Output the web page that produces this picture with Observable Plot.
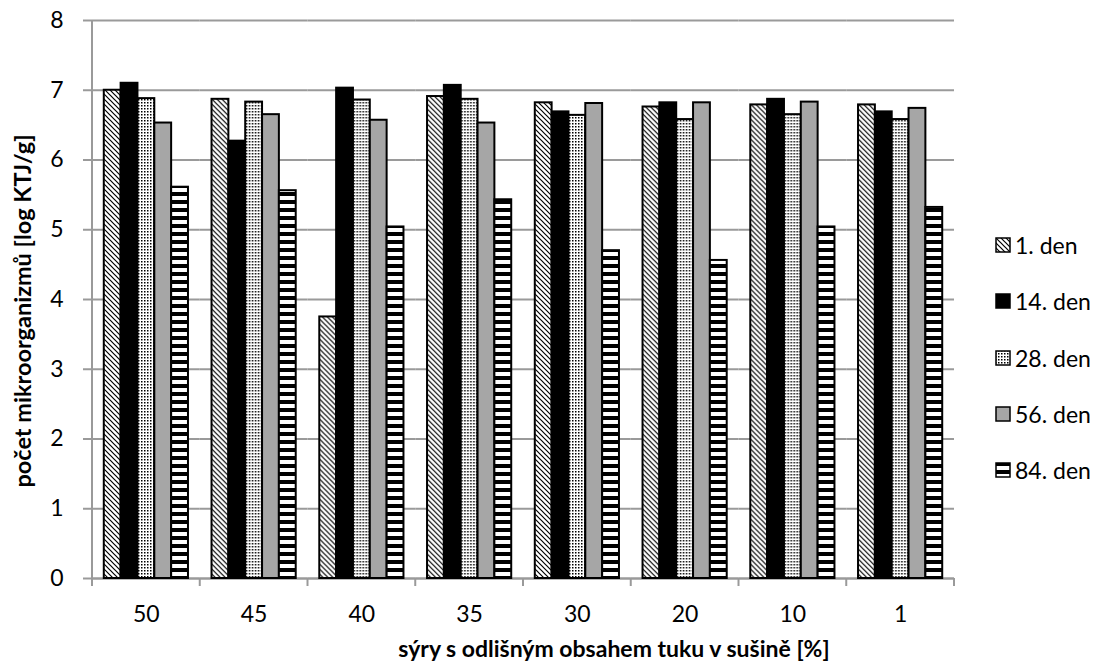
<!DOCTYPE html>
<html>
<head>
<meta charset="utf-8">
<script src="https://cdn.jsdelivr.net/npm/d3@7"></script>
<script src="https://cdn.jsdelivr.net/npm/@observablehq/plot@0.6"></script>
<style>
  body { margin: 0; background: #fff; font-family: Lato, "Open Sans", sans-serif; }
  #wrap { position: relative; width: 1108px; height: 668px; }
  #ytitle { position: absolute; left: 22px; top: 311px; transform: translate(-50%, -50%) rotate(-90deg);
    white-space: nowrap; font-weight: bold; font-size: 23.5px; color: #000; }
  #xtitle { position: absolute; left: 614px; top: 648px; transform: translate(-50%, -50%);
    font-weight: bold; font-size: 23px; color: #000; white-space: nowrap; }
  #legend { position: absolute; left: 995px; top: 0; }
  .li { position: absolute; left: 0; display: flex; align-items: center; white-space: nowrap;
    font-size: 23px; color: #000; transform: translateY(-50%); }
  .li svg { margin-right: 4px; }
</style>
</head>
<body>
<div id="wrap">
  <div id="chart"></div>
  <div id="ytitle">počet mikroorganizmů [log KTJ/g]</div>
  <div id="xtitle">sýry s odlišným obsahem tuku v sušině [%]</div>
  <div id="legend"></div>
</div>
<script>
const categories = ["50", "45", "40", "35", "30", "20", "10", "1"];
const seriesNames = ["1. den", "14. den", "28. den", "56. den", "84. den"];
const den1  = [7.00, 6.87, 3.75, 6.91, 6.82, 6.76, 6.79, 6.79];
const den14 = [7.10, 6.27, 7.03, 7.07, 6.69, 6.82, 6.87, 6.69];
const den28 = [6.88, 6.83, 6.86, 6.87, 6.64, 6.58, 6.65, 6.58];
const den56 = [6.53, 6.65, 6.57, 6.53, 6.81, 6.82, 6.83, 6.74];
const den84 = [5.61, 5.56, 5.04, 5.43, 4.70, 4.56, 5.04, 5.32];
const yTicks = [0, 1, 2, 3, 4, 5, 6, 7, 8];

const seriesValues = [den1, den14, den28, den56, den84];
const fills = ["url(#pDiag)", "#000000", "url(#pDots)", "#a6a6a6", "url(#pStripes)"];

const data = [];
categories.forEach((c, i) => {
  seriesNames.forEach((s, j) => {
    data.push({cat: c, series: s, value: seriesValues[j][i]});
  });
});

const gridColor = "#9a9a9a";

const chart = Plot.plot({
  width: 1108,
  height: 628,
  marginLeft: 92,
  marginRight: 154,
  marginTop: 20,
  marginBottom: 50,
  style: {fontFamily: "Lato, 'Open Sans', sans-serif", background: "#fff", color: "#000"},
  fx: {domain: categories, padding: 0, round: false, label: null},
  x: {domain: seriesNames, paddingInner: 0, paddingOuter: 0.7, round: false, axis: null},
  y: {domain: [0, 8], label: null},
  color: {domain: seriesNames, range: fills},
  marks: [
    Plot.gridY(yTicks, {stroke: gridColor, strokeOpacity: 1, strokeWidth: 2}),
    Plot.ruleY([0], {stroke: gridColor, strokeWidth: 2}),
    Plot.barY(data, {fx: "cat", x: "series", y: "value", fill: "series",
      stroke: "#000", strokeWidth: 2, inset: 0}),
    Plot.axisY({ticks: yTicks, tickSize: 9, tickPadding: 20, stroke: gridColor,
      strokeWidth: 2, fontSize: 23, label: null, tickFormat: d => String(d)}),
    Plot.axisFx({anchor: "bottom", tickSize: 0, tickPadding: 27, fontSize: 23, label: null})
  ]
});

document.getElementById("chart").appendChild(chart);

// pattern definitions
const svg = d3.select(chart);
const defs = svg.insert("defs", ":first-child");
const pDiag = defs.append("pattern").attr("id", "pDiag").attr("patternUnits", "userSpaceOnUse")
  .attr("width", 5).attr("height", 5);
pDiag.append("rect").attr("width", 5).attr("height", 5).attr("fill", "#fff");
pDiag.append("path").attr("d", "M-1,-1 L6,6 M-1,4 L1,6 M4,-1 L6,1")
  .attr("stroke", "#000").attr("stroke-width", 1.2);
const pDots = defs.append("pattern").attr("id", "pDots").attr("patternUnits", "userSpaceOnUse")
  .attr("width", 3).attr("height", 3);
pDots.append("rect").attr("width", 3).attr("height", 3).attr("fill", "#fff");
pDots.append("rect").attr("width", 1.5).attr("height", 1.5).attr("fill", "#000");
const pStripes = defs.append("pattern").attr("id", "pStripes").attr("patternUnits", "userSpaceOnUse")
  .attr("width", 8).attr("height", 8);
pStripes.append("rect").attr("width", 8).attr("height", 8).attr("fill", "#fff");
pStripes.append("rect").attr("width", 8).attr("height", 4).attr("fill", "#000");

// axis lines and category boundary ticks, placed through the library's scales
const fx = chart.scale("fx");
const y = chart.scale("y");
const y0 = y.apply(0);
const yTop = y.apply(8);
const left = fx.apply(categories[0]);
svg.append("line").attr("x1", left).attr("x2", left).attr("y1", yTop).attr("y2", y0)
  .attr("stroke", gridColor).attr("stroke-width", 2);
const bounds = categories.map(c => fx.apply(c)).concat([fx.apply(categories[categories.length - 1]) + fx.bandwidth]);
bounds.forEach(b => {
  svg.append("line").attr("x1", b).attr("x2", b).attr("y1", y0).attr("y2", y0 + 8)
    .attr("stroke", gridColor).attr("stroke-width", 2);
});

// legend
const legendTops = [245, 301, 358, 414, 470];
const legend = d3.select("#legend");
seriesNames.forEach((s, i) => {
  const item = legend.append("div").attr("class", "li").style("top", legendTops[i] + "px");
  const sw = item.append("svg").attr("width", 16).attr("height", 16);
  sw.append("rect").attr("x", 1).attr("y", 1).attr("width", 14).attr("height", 14)
    .attr("fill", fills[i]).attr("stroke", "#000").attr("stroke-width", 1.5);
  item.append("span").text(s);
});
</script>
</body>
</html>
